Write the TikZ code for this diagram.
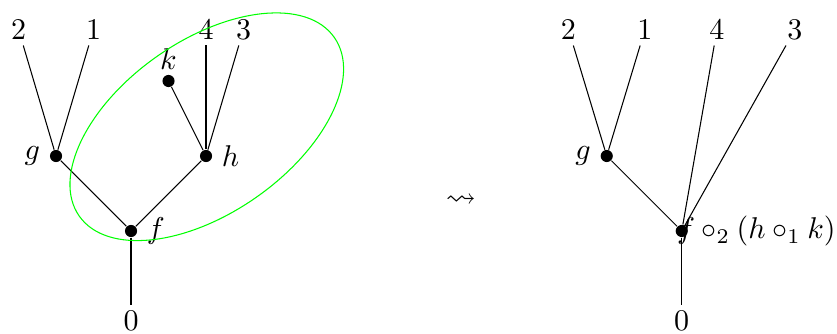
\RequirePackage{fix-cm}
\documentclass[tikz,border=0pt]{standalone}
\usepackage{amsmath}
\usepackage{amssymb}
\usepackage{tikz}
\usepackage{xcolor}

\begin{document}
\begin{tikzpicture}[
    font=\fontsize{11.4pt}{14pt}\selectfont,
    vertex/.style={circle, fill=black, inner sep=0pt, minimum size=4.6pt},
    leaf/.style={inner sep=2.2pt},
    edge/.style={black, line width=0.4pt},
    blob/.style={draw=green, line width=0.4pt}
]
    \useasboundingbox (-1.747,-1.36) rectangle (9.413,3.08);

    \node[vertex, label=right:$f$] (f) at (0,0) {};
    \node[vertex, label=left:$g$] (g) at (-1,1) {};
    \node[vertex, label=right:$h$] (h) at (1,1) {};
    \node[vertex, label={[label distance=-1.5pt]above:$k$}] (k) at (0.5,2) {};
    \node[leaf] (l2) at (-1.5,2.687) {$2$};
    \node[leaf] (l1) at (-0.5,2.687) {$1$};
    \node[leaf] (l4) at (1,2.687) {$4$};
    \node[leaf] (l3) at (1.5,2.687) {$3$};
    \node[leaf] (l0) at (0,-1.2) {$0$};

    \draw[edge] (f) -- (g);
    \draw[edge] (f) -- (h);
    \draw[edge] (f) -- (l0);
    \draw[edge] (g) -- (l2);
    \draw[edge] (g) -- (l1);
    \draw[edge] (h) -- (k);
    \draw[edge] (h) -- (l4);
    \draw[edge] (h) -- (l3);

    \draw[blob] (1.01,1.39) ellipse[x radius=2.076, y radius=1.149, rotate=35];

    \node (to) at (4.4,0.4) {$\rightsquigarrow$};

    \begin{scope}[xshift=7.343cm]
        \node[vertex] (f2) at (0,0) {};
        \node[anchor=west, inner sep=0pt] (comp) at ([xshift=-0.07cm]f2.center) {$f \circ_2 (h \circ_1 k)$};
        \node[vertex, label=left:$g$] (g2) at (-1,1) {};
        \node[leaf] (r2) at (-1.51,2.687) {$2$};
        \node[leaf] (r1) at (-0.49,2.687) {$1$};
        \node[leaf] (r4) at (0.47,2.687) {$4$};
        \node[leaf] (r3) at (1.51,2.687) {$3$};
        \node[leaf] (r0) at (0,-1.2) {$0$};

        \draw[edge] (f2) -- (g2);
        \draw[edge] (f2) -- (r0);
        \draw[edge] (g2) -- (r2);
        \draw[edge] (g2) -- (r1);
        \draw[edge] (f2) -- (r4);
        \draw[edge] (f2) -- (r3);
    \end{scope}
\end{tikzpicture}
\end{document}
